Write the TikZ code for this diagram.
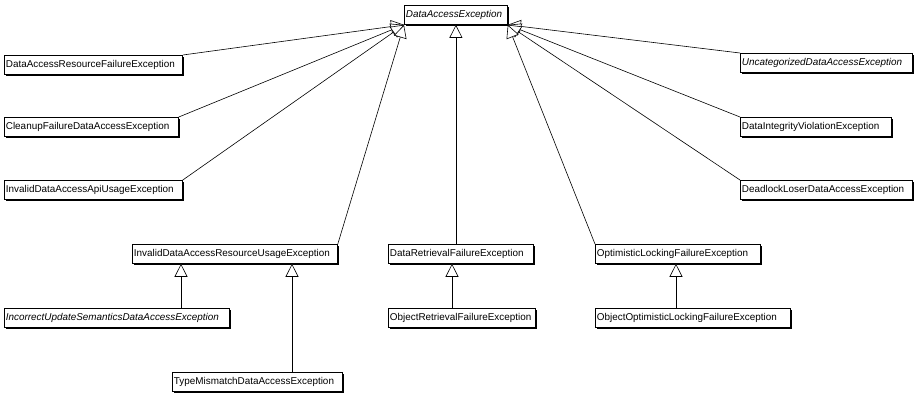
\documentclass[tikz,border=0pt]{standalone}
\usepackage{fontspec}
\setmainfont{Liberation Sans}
\usetikzlibrary{arrows.meta,shadows}
\tikzset{
  cls/.style={draw=black, line width=0.8pt, fill=white, anchor=north west,
    minimum height=19pt, inner xsep=1.5pt, inner ysep=0pt, align=left,
    font=\fontsize{9.9}{10}\selectfont,
    execute at begin node={\hyphenpenalty=10000\exhyphenpenalty=10000\hbadness=10000\hfuzz=20pt},
    general shadow={shadow xshift=1.2pt, shadow yshift=-1.2pt, fill=black}},
  abs/.style={font=\fontsize{9.9}{10}\selectfont\itshape},
  gen/.style={draw=black, line width=0.6pt, -{Triangle[open, length=13pt, width=13pt, fill=white]}}
}
\begin{document}
\begin{tikzpicture}[x=1pt, y=-1pt]
\useasboundingbox (0,0) rectangle (916,397);
% top
\node[cls, abs, text width=100pt] (dae) at (404,5) {DataAccessException};
% left column
\node[cls, text width=175pt] (darf) at (4,55) {DataAccessResourceFailureException};
\node[cls, text width=171pt] (cfda) at (4,117) {CleanupFailureDataAccessException};
\node[cls, text width=175pt] (idaau) at (4,180) {InvalidDataAccessApiUsageException};
% right column
\node[cls, abs, text width=169pt] (uda) at (740,53) {UncategorizedDataAccessException};
\node[cls, text width=148pt] (divi) at (740,117) {DataIntegrityViolationException};
\node[cls, text width=169pt] (dlda) at (740,180) {DeadlockLoserDataAccessException};
% middle row
\node[cls, text width=202pt] (idaru) at (132,244) {InvalidDataAccessResourceUsageException};
\node[cls, text width=142pt] (drf) at (388,244) {DataRetrievalFailureException};
\node[cls, text width=162pt] (olf) at (595,244) {OptimisticLockingFailureException};
% bottom row
\node[cls, abs, text width=222pt] (iusda) at (4,308) {IncorrectUpdateSemanticsDataAccessException};
\node[cls, text width=144pt] (orf) at (388,308) {ObjectRetrievalFailureException};
\node[cls, text width=192pt] (oolf) at (595,308) {ObjectOptimisticLockingFailureException};
\node[cls, text width=167pt] (tmda) at (172,372) {TypeMismatchDataAccessException};
% generalizations to DataAccessException
\draw[gen] (darf.north east) -- (dae.south west);
\draw[gen] (cfda.north east) -- (dae.south west);
\draw[gen] (idaau.north east) -- (dae.south west);
\draw[gen] (idaru.north east) -- (dae.south west);
\draw[gen] (uda.north west) -- (dae.south east);
\draw[gen] (divi.north west) -- (dae.south east);
\draw[gen] (dlda.north west) -- (dae.south east);
\draw[gen] (olf.north west) -- (dae.south east);
\draw[gen] (drf.north -| dae.south) -- (dae.south);
% sub generalizations
\draw[gen] (iusda.north -| 181,0) -- (idaru.south -| 181,0);
\draw[gen] (tmda.north -| 292,0) -- (idaru.south -| 292,0);
\draw[gen] (orf.north -| 452,0) -- (drf.south -| 452,0);
\draw[gen] (oolf.north -| 676,0) -- (olf.south -| 676,0);
\end{tikzpicture}
\end{document}
